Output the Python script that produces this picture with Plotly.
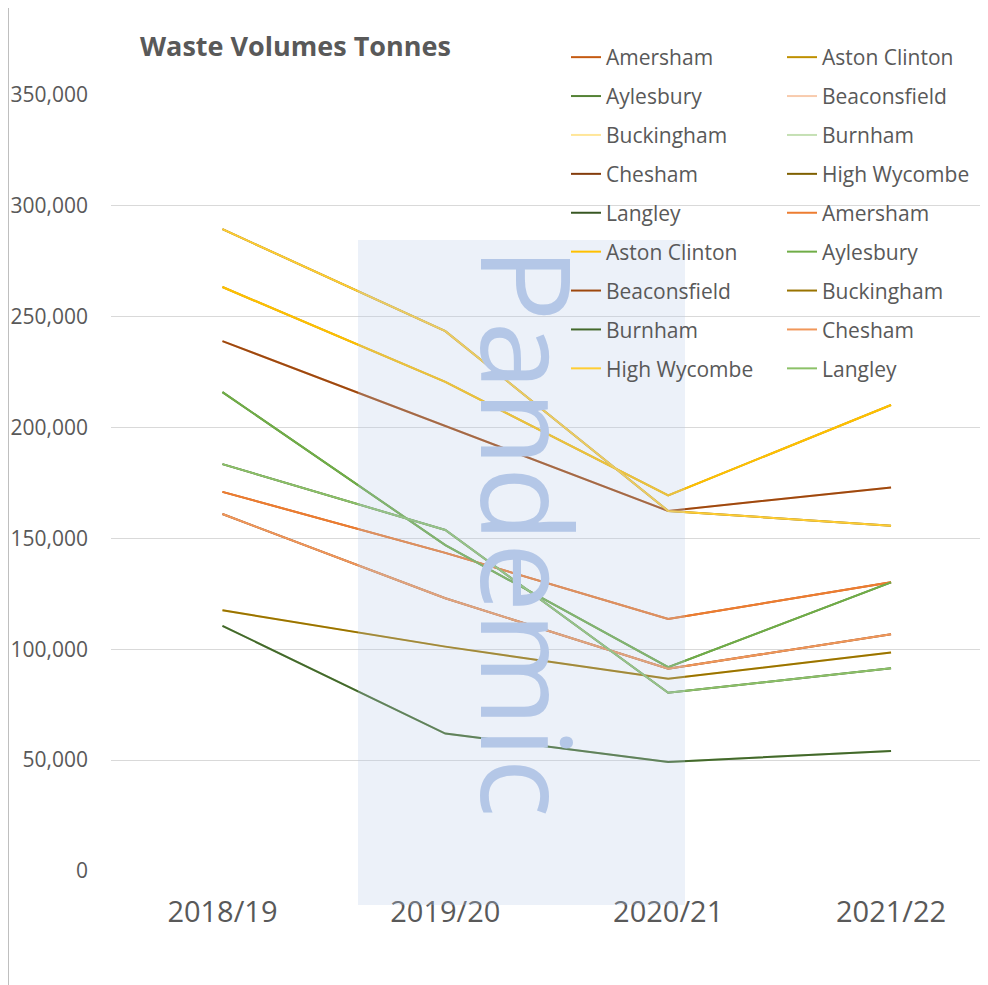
import plotly.graph_objects as go

years = ["2018/19", "2019/20", "2020/21", "2021/22"]
towns = ["Amersham", "Aston Clinton", "Aylesbury", "Beaconsfield", "Buckingham",
         "Burnham", "Chesham", "High Wycombe", "Langley"]

amersham = [171000, 143500, 113700, 130200]
aston_clinton = [263400, 220600, 169400, 210200]
aylesbury = [216000, 147000, 91900, 130200]
beaconsfield = [239000, 200800, 162400, 173000]
buckingham = [117600, 101200, 86700, 98600]
burnham = [110600, 62000, 49200, 54100]
chesham = [161000, 123000, 91250, 106800]
high_wycombe = [289500, 243500, 162400, 155700]
langley = [183500, 153800, 80400, 91400]

values = [amersham, aston_clinton, aylesbury, beaconsfield, buckingham,
          burnham, chesham, high_wycombe, langley]

colors_set1 = ["#C55A11", "#BF9000", "#548235", "#F8CBAD", "#FFE699",
               "#C5E0B4", "#843C0C", "#7F6000", "#385723"]
colors_set2 = ["#ED7D31", "#FFC000", "#70AD47", "#9E480E", "#997300",
               "#43682B", "#F1975A", "#FFCD33", "#8CC168"]

OFF = 8  # page body margin
W, H = 980, 977
L, R, T, B = 103, 0, 87, 114
pw, ph = W - L - R, H - T - B

def px_x(p):
    return (p - OFF - L) / pw

def px_y(p):
    return (H - B - (p - OFF)) / ph

fig = go.Figure()
for s, cols in enumerate([colors_set1, colors_set2]):
    for i, (name, vals) in enumerate(zip(towns, values)):
        k = s * 9 + i
        leg = "legend" if k % 2 == 0 else "legend2"
        fig.add_trace(go.Scatter(
            x=years, y=vals, mode="lines", name=name,
            line=dict(color=cols[i], width=2),
            legend=leg, legendgroup="g%d" % k,
        ))

font = "Open Sans"
grey = "#595959"

leg_common = dict(
    orientation="v", traceorder="grouped", tracegroupgap=8.6,
    font=dict(family=font, size=21, color=grey),
    bgcolor="rgba(0,0,0,0)", borderwidth=0,
    xanchor="left", yanchor="top", y=px_y(37), itemwidth=30,
)

fig.update_layout(
    width=W, height=H,
    margin=dict(l=L, r=R, t=T, b=B, autoexpand=False),
    paper_bgcolor="white", plot_bgcolor="white",
    showlegend=True,
    legend=dict(x=px_x(566), **leg_common),
    legend2=dict(x=px_x(782), **leg_common),
    title=dict(text="<b>Waste Volumes Tonnes</b>", xref="container", yref="container",
               x=(140 - OFF) / W, xanchor="left", y=1 - (47 - OFF) / H, yanchor="middle",
               font=dict(family=font, size=27, color=grey)),
    xaxis=dict(type="category", range=[-0.5, 3.435], showgrid=False, zeroline=False,
               showline=False, ticks="", tickfont=dict(family=font, size=29, color=grey),
               ticklabelstandoff=21),
    yaxis=dict(range=[0, 350000], dtick=50000, tickformat=",", showgrid=True,
               gridcolor="#D9D9D9", gridwidth=1, zeroline=False, showline=False,
               ticks="", tickfont=dict(family=font, size=21, color=grey),
               ticklabelstandoff=22),
    shapes=[
        dict(type="rect", xref="paper", yref="paper",
             x0=px_x(358), x1=px_x(685), y0=px_y(905), y1=px_y(240),
             fillcolor="rgba(180,199,231,0.26)", line=dict(width=0), layer="above"),
        dict(type="line", xref="paper", yref="paper",
             x0=px_x(8.5), x1=px_x(8.5), y0=px_y(H + OFF), y1=px_y(OFF),
             line=dict(color="#BFBFBF", width=1)),
    ],
    annotations=[
        dict(text="Pandemic", xref="paper", yref="paper", x=px_x(530), y=px_y(532),
             xanchor="center", yanchor="middle", textangle=90, showarrow=False,
             font=dict(family=font, size=124, color="#B4C7E7")),
    ],
)

fig.write_html("out.html")
